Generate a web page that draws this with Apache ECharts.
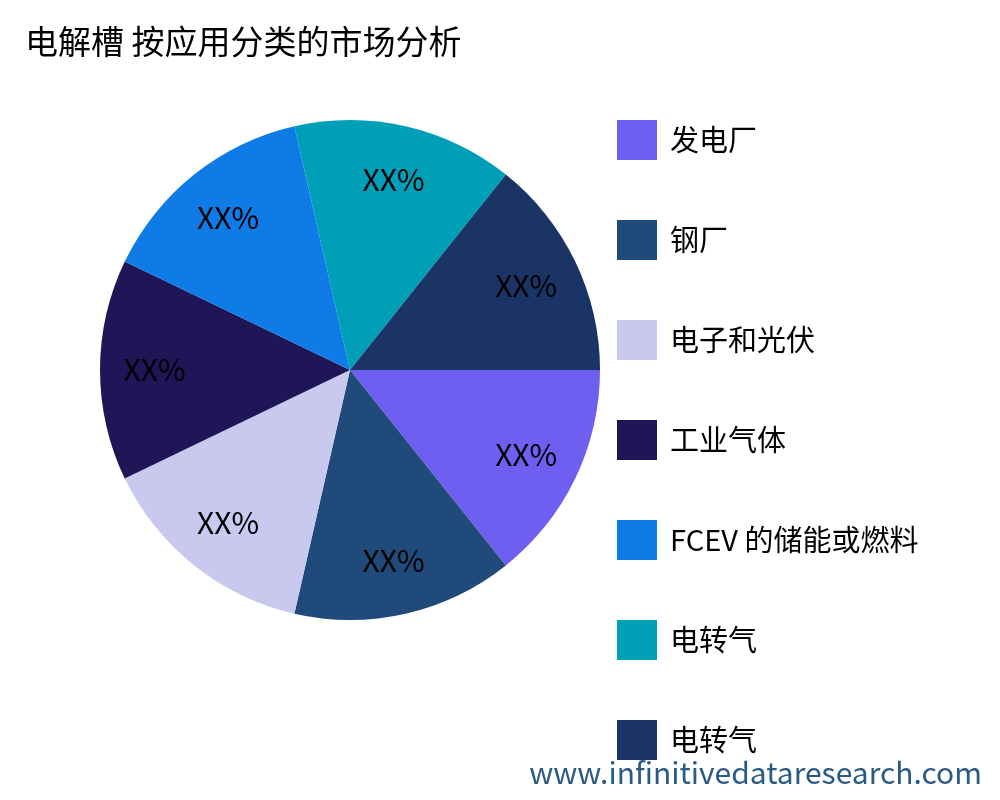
<!DOCTYPE html>
<html><head><meta charset="utf-8">
<script src="https://cdn.jsdelivr.net/npm/echarts@6/dist/echarts.min.js"></script>
<style>html,body{margin:0;padding:0;background:#fff}</style>
</head><body>
<div id="main" style="width:1000px;height:800px"></div>
<script>
var categories = ['发电厂', '钢厂', '电子和光伏', '工业气体', 'FCEV 的储能或燃料', '电转气', '电转气 '];
var values = [1, 1, 1, 1, 1, 1, 1];
var labels = ['XX%', 'XX%', 'XX%', 'XX%', 'XX%', 'XX%', 'XX%'];
var colors = ['#6f5ff0', '#1f4a7a', '#c9c9f0', '#1e1656', '#0e7be6', '#009fb8', '#1b3466'];
var font = '"Noto Sans CJK SC", "Noto Sans", sans-serif';

var chart = echarts.init(document.getElementById('main'));
var data = categories.map(function (c, i) {
    return { name: c, value: values[i], itemStyle: { color: colors[i] } };
});
chart.setOption({
    animation: false,
    title: {
        text: '电解槽 按应用分类的市场分析',
        left: 20, top: 20,
        textStyle: { fontFamily: font, fontSize: 33, fontWeight: 'normal', color: '#000' }
    },
    legend: {
        orient: 'vertical',
        left: 612, top: 115,
        itemWidth: 40, itemHeight: 40, itemGap: 60,
        icon: 'rect',
        data: categories,
        textStyle: { fontFamily: font, fontSize: 29, color: '#000', padding: [0, 0, 0, 8] }
    },
    graphic: [{
        type: 'text', right: 18, bottom: 12,
        style: { text: 'www.infinitivedataresearch.com', fontFamily: font, fontSize: 30, fill: '#2a5a86' }
    }],
    series: [{
        type: 'pie',
        center: [350, 370],
        radius: 250,
        startAngle: 0,
        clockwise: true,
        label: { show: false },
        labelLine: { show: false },
        data: data
    }, {
        type: 'pie',
        center: [350, 370],
        radius: 385,
        startAngle: 0,
        clockwise: true,
        silent: true,
        label: {
            show: true, position: 'inside',
            formatter: function (p) { return labels[p.dataIndex]; },
            fontFamily: '"Noto Sans CJK SC", sans-serif', fontSize: 30, color: '#000'
        },
        labelLine: { show: false },
        data: categories.map(function (c, i) { return { name: c, value: values[i], itemStyle: { color: 'rgba(0,0,0,0)' } }; }),
        z: 3
    }]
});
</script>
</body></html>
